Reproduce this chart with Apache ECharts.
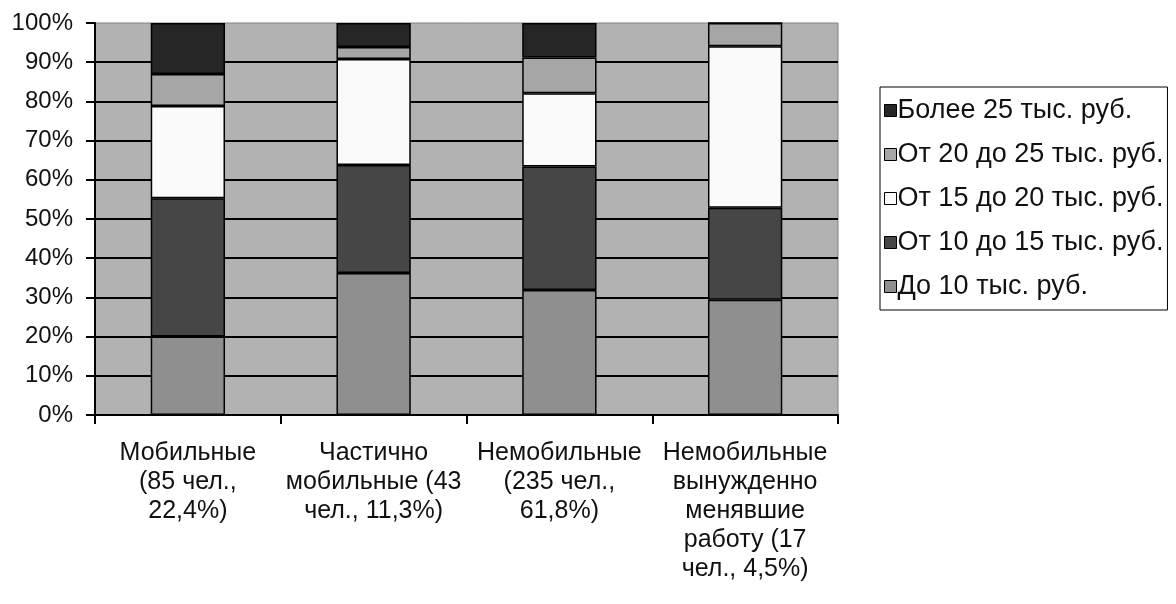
<!DOCTYPE html>
<html>
<head>
<meta charset="utf-8">
<script src="https://cdn.jsdelivr.net/npm/echarts@6/dist/echarts.min.js"></script>
<style>
html,body{margin:0;padding:0;background:#fff;}
#chart{width:1176px;height:604px;}
</style>
</head>
<body>
<div id="chart"></div>
<script>
const categories = [
  'Мобильные\n(85 чел.,\n22,4%)',
  'Частично\nмобильные (43\nчел., 11,3%)',
  'Немобильные\n(235 чел.,\n61,8%)',
  'Немобильные\nвынужденно\nменявшие\nработу (17\nчел., 4,5%)'
];
const seriesNames = ['До 10 тыс. руб.', 'От 10 до 15 тыс. руб.', 'От 15 до 20 тыс. руб.', 'От 20 до 25 тыс. руб.', 'Более 25 тыс. руб.'];
const upTo10 = [20.0, 36.2, 31.9, 29.4];
const from10to15 = [35.3, 27.6, 31.5, 23.5];
const from15to20 = [23.5, 27.0, 18.7, 41.2];
const from20to25 = [8.2, 3.1, 9.1, 5.9];
const over25 = [13.0, 6.1, 8.8, 0];
const seriesColors = ['#8f8f8f', '#464646', '#fafafa', '#a6a6a6', '#262626'];
const yTicks = [0, 10, 20, 30, 40, 50, 60, 70, 80, 90, 100];

const allValues = [upTo10, from10to15, from15to20, from20to25, over25];
const font = '"Liberation Sans", Arial, sans-serif';

const chart = echarts.init(document.getElementById('chart'), null, {renderer: 'canvas'});
chart.setOption({
  animation: false,
  textStyle: {fontFamily: font},
  grid: {
    left: 95, right: 338, top: 23, bottom: 189,
    show: true, backgroundColor: '#b2b2b2', borderColor: '#808080', borderWidth: 1
  },
  legend: {
    orient: 'vertical',
    left: 880, top: 87,
    padding: [10, 4, 10, 4],
    borderColor: '#000', borderWidth: 1,
    backgroundColor: '#fff',
    itemWidth: 12, itemHeight: 12, itemGap: 17,
    icon: 'rect',
    data: seriesNames.slice().reverse(),
    textStyle: {fontSize: 27, color: '#111', fontFamily: font, lineHeight: 27, padding: [0, 0, 0, -4]},
    itemStyle: {borderColor: '#000', borderWidth: 1}
  },
  xAxis: {
    type: 'category',
    data: categories,
    boundaryGap: true,
    axisLine: {lineStyle: {color: '#000', width: 2}},
    axisTick: {show: true, length: 9, inside: false, alignWithLabel: false, lineStyle: {color: '#000', width: 2}},
    axisLabel: {fontSize: 25, color: '#111', lineHeight: 29, margin: 24, interval: 0, fontFamily: font},
    splitLine: {show: false}
  },
  yAxis: {
    type: 'value',
    min: yTicks[0], max: yTicks[yTicks.length - 1], interval: 10,
    axisLine: {show: true, lineStyle: {color: '#000', width: 2}},
    axisTick: {show: true, length: 9, lineStyle: {color: '#000', width: 2}},
    axisLabel: {fontSize: 24, color: '#111', margin: 22, formatter: '{value}%', fontFamily: font},
    splitLine: {show: true, showMaxLine: false, lineStyle: {color: '#000', width: 2}}
  },
  series: seriesNames.map((name, i) => ({
    name: name,
    type: 'bar',
    stack: 'total',
    barWidth: '40%',
    data: allValues[i],
    itemStyle: {color: seriesColors[i], borderColor: '#000', borderWidth: 1.5}
  }))
});
</script>
</body>
</html>
